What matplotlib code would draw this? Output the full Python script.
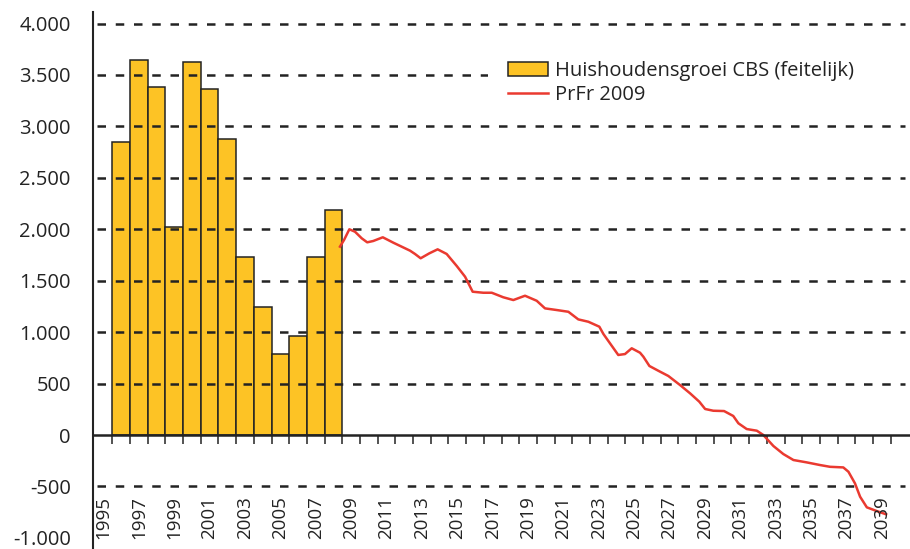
import matplotlib; matplotlib.use('Agg')
import matplotlib.pyplot as plt
from matplotlib.patches import Patch, Rectangle
from matplotlib.lines import Line2D

plt.rcParams['font.family'] = ['Open Sans', 'DejaVu Sans']

# feitelijke huishoudensgroei (CBS)
bar_years = list(range(1996, 2009))
bar_values = [2850, 3645, 3385, 2020, 3625, 3365, 2880, 1730, 1248, 790, 963, 1730, 2188]

# prognose PrFr 2009
line_years = [2008.37, 2008.60, 2008.90, 2009.22, 2009.60, 2009.91, 2010.25, 2010.79,
              2011.38, 2012.33, 2012.61, 2012.93, 2013.42, 2013.89, 2014.40, 2014.97,
              2015.44, 2015.87, 2016.47, 2016.95, 2017.60, 2018.17, 2018.83, 2019.49,
              2019.96, 2020.62, 2021.28, 2021.84, 2022.41, 2023.03, 2023.26, 2023.63,
              2024.10, 2024.48, 2024.86, 2025.33, 2025.52, 2025.86, 2026.36, 2026.93,
              2027.59, 2028.16, 2028.68, 2029.01, 2029.47, 2030.08, 2030.60, 2030.89,
              2031.36, 2031.93, 2032.30, 2032.87, 2033.43, 2034.00, 2034.75, 2035.51,
              2036.07, 2036.82, 2037.11, 2037.48, 2037.77, 2038.15, 2038.71, 2039.24]
line_values = [1831, 1896, 2000, 1976, 1912, 1873, 1886, 1922,
               1870, 1792, 1760, 1718, 1766, 1805, 1760, 1643,
               1539, 1393, 1383, 1383, 1339, 1312, 1354, 1305,
               1231, 1215, 1198, 1124, 1101, 1053, 982, 892,
               778, 787, 843, 800, 761, 671, 625, 574,
               486, 405, 324, 253, 236, 233, 185, 114,
               58, 42, 0, -107, -185, -243, -266, -292,
               -309, -315, -357, -470, -600, -703, -739, -771]

y_ticks = [-1000, -500, 0, 500, 1000, 1500, 2000, 2500, 3000, 3500, 4000]
y_labels = ['-1.000', '-500', '0', '500', '1.000', '1.500', '2.000', '2.500',
            '3.000', '3.500', '4.000']
grid_values = [-500, 500, 1000, 1500, 2000, 2500, 3000, 3500, 4000]
x_label_years = list(range(1995, 2040, 2))

DARK = '#232323'
BAR = '#fdc325'
RED = '#ea3a30'

fig = plt.figure(figsize=(9.10, 5.49), dpi=100)
ax = fig.add_axes([93 / 910, 0, 817 / 910, 537 / 549])

ax.bar(bar_years, bar_values, width=1.0, color=BAR, edgecolor=DARK, linewidth=1.1, zorder=1)
ax.hlines(grid_values, 1994.64, 2040.3, colors=DARK, linewidth=1.8,
          linestyles=(0, (3.4, 3.9)), zorder=2)
ax.plot(line_years, line_values, color=RED, linewidth=1.8, zorder=3,
        solid_joinstyle='round')

# white block behind the legend, the grid stops there
fig.patches.append(Rectangle((488 / 910, 1 - 112 / 549), 1 - 488 / 910, 60 / 549,
                             transform=fig.transFigure, facecolor='white',
                             edgecolor='none', zorder=1))

ax.set_xlim(1994.41, 2040.59)
ax.set_ylim(-1108, 4112)

ax.spines['top'].set_visible(False)
ax.spines['right'].set_visible(False)
ax.spines['left'].set_color(DARK)
ax.spines['left'].set_linewidth(1.5)
ax.spines['bottom'].set_position(('data', 0))
ax.spines['bottom'].set_color(DARK)
ax.spines['bottom'].set_linewidth(1.8)
ax.spines['bottom'].set_zorder(4)

ax.set_xticks([y + 0.5 for y in range(1995, 2040)])
ax.tick_params(axis='x', direction='out', length=6.5, width=1.1, color=DARK, labelbottom=False)

ax.set_yticks(y_ticks)
ax.set_yticklabels(y_labels)
ax.tick_params(axis='y', length=0, pad=16, labelsize=14.5, labelcolor=DARK)

for yr in x_label_years:
    ax.text(yr, 0.018, str(yr), transform=ax.get_xaxis_transform(), rotation=90,
            ha='center', va='bottom', fontsize=13.5, color=DARK)

handles = [Patch(facecolor=BAR, edgecolor=DARK, linewidth=1.1),
           Line2D([], [], color=RED, linewidth=1.8)]
labels = ['Huishoudensgroei CBS (feitelijk)', 'PrFr 2009']
leg = fig.legend(handles, labels, loc='upper left', bbox_to_anchor=(508 / 910, 1 - 61 / 549),
                 frameon=False, fontsize=14.5, borderpad=0, borderaxespad=0,
                 handlelength=2.0, handleheight=0.7, handletextpad=0.35, labelspacing=0.2,
                 labelcolor=DARK)
leg.set_zorder(6)

fig.savefig('out.png', dpi=100)
